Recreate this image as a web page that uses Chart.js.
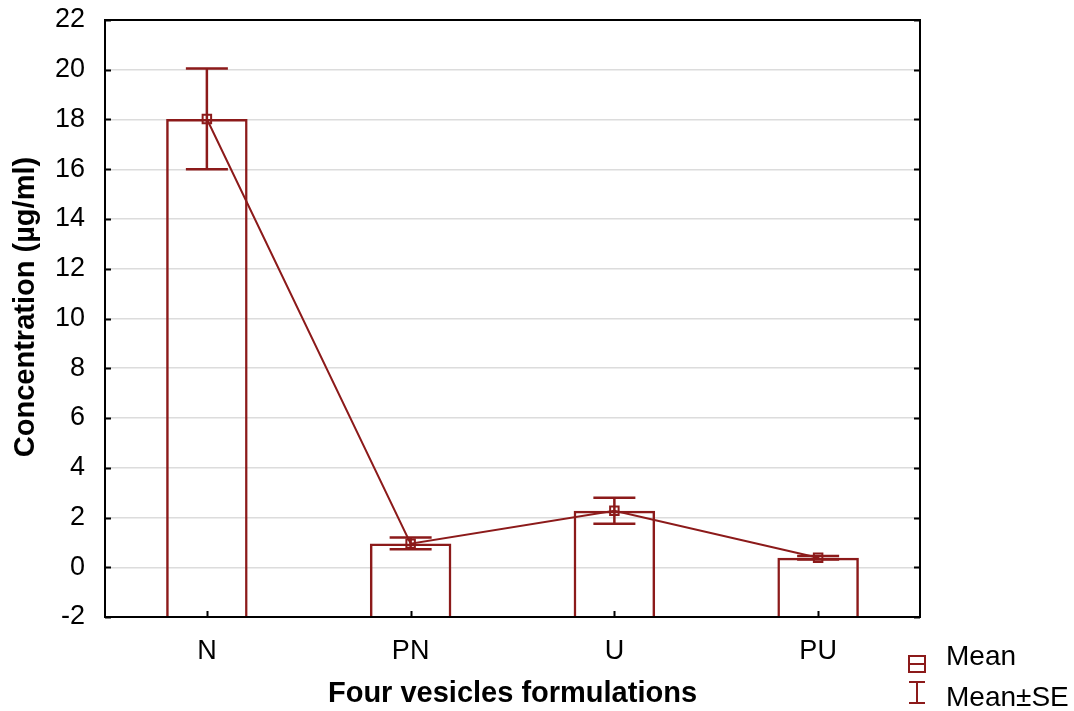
<!DOCTYPE html>
<html><head><meta charset="utf-8">
<script src="https://cdn.jsdelivr.net/npm/chart.js@4/dist/chart.umd.min.js"></script>
<style>html,body{margin:0;padding:0;background:#fff;} #wrap{width:1074px;height:711px;position:relative;}</style>
</head><body><div id="wrap"><canvas id="c" width="1074" height="711"></canvas></div>
<script>
const categories = ['N', 'PN', 'U', 'PU'];
const meanValues = [18.02, 0.95, 2.27, 0.38];
const seLower = [16.0, 0.72, 1.75, 0.31];
const seUpper = [20.05, 1.20, 2.79, 0.45];
const yTickValues = [-2, 0, 2, 4, 6, 8, 10, 12, 14, 16, 18, 20, 22];
const legendLabels = ['Mean', 'Mean±SE'];
const xTitle = 'Four vesicles formulations';
const yTitle = 'Concentration (µg/ml)';

const RED = '#8c1a1a';
const FONT = "'Liberation Sans', Arial, sans-serif";

const decor = {
  id: 'decor',
  afterDatasetsDraw(chart) {
    const ctx = chart.ctx, x = chart.scales.x, y = chart.scales.y;
    ctx.save();
    ctx.strokeStyle = RED; ctx.lineWidth = 2.5;
    categories.forEach((c, i) => {
      const px = x.getPixelForValue(i);
      const yl = y.getPixelForValue(seLower[i]);
      const yh = y.getPixelForValue(seUpper[i]);
      ctx.beginPath();
      ctx.moveTo(px, yl); ctx.lineTo(px, yh);
      ctx.moveTo(px - 21, yl); ctx.lineTo(px + 21, yl);
      ctx.moveTo(px - 21, yh); ctx.lineTo(px + 21, yh);
      ctx.stroke();
    });
    ctx.restore();
  },
  afterDraw(chart) {
    const ctx = chart.ctx, a = chart.chartArea, x = chart.scales.x, y = chart.scales.y;
    ctx.save();
    ctx.strokeStyle = '#000'; ctx.lineWidth = 2;
    ctx.beginPath();
    yTickValues.forEach(v => {
      const py = Math.round(y.getPixelForValue(v)) + 0.5;
      ctx.moveTo(a.left, py); ctx.lineTo(a.left + 6, py);
      ctx.moveTo(a.right, py); ctx.lineTo(a.right - 6, py);
    });
    categories.forEach((c, i) => {
      const px = Math.round(x.getPixelForValue(i)) + 0.5;
      ctx.moveTo(px, a.bottom); ctx.lineTo(px, a.bottom - 6);
    });
    ctx.stroke();
    ctx.lineWidth = 2;
    ctx.strokeRect(a.left, a.top, a.right - a.left, a.bottom - a.top);
    // y title drawn manually for exact placement
    ctx.fillStyle = '#000';
    ctx.font = 'bold 29px ' + FONT;
    ctx.textAlign = 'center'; ctx.textBaseline = 'middle';
    ctx.save();
    ctx.translate(26, 307);
    ctx.rotate(-Math.PI / 2);
    ctx.fillText(yTitle, 0, 0);
    ctx.restore();
    // legend
    const lx = 917;
    ctx.strokeStyle = RED; ctx.lineWidth = 2;
    ctx.strokeRect(lx - 8, 656, 16, 16);
    ctx.beginPath(); ctx.moveTo(lx - 8, 664); ctx.lineTo(lx + 8, 664); ctx.stroke();
    ctx.beginPath();
    ctx.moveTo(lx - 8, 682); ctx.lineTo(lx + 8, 682);
    ctx.moveTo(lx, 682); ctx.lineTo(lx, 703);
    ctx.moveTo(lx - 8, 703); ctx.lineTo(lx + 8, 703);
    ctx.stroke();
    ctx.fillStyle = '#000';
    ctx.font = '28px ' + FONT;
    ctx.textBaseline = 'middle'; ctx.textAlign = 'left';
    ctx.fillText(legendLabels[0], 946, 657);
    ctx.fillText(legendLabels[1], 946, 698);
    ctx.restore();
  }
};

new Chart(document.getElementById('c'), {
  type: 'bar',
  data: {
    labels: categories,
    datasets: [
      {
        type: 'line', label: legendLabels[0], data: meanValues,
        borderColor: RED, borderWidth: 2, pointStyle: 'rect', pointRadius: 6,
        pointBorderWidth: 2, pointBorderColor: RED, pointBackgroundColor: 'rgba(0,0,0,0)',
        tension: 0, order: 0
      },
      {
        type: 'bar', label: 'bars', data: meanValues, base: -2,
        backgroundColor: 'rgba(255,255,255,0)', borderColor: RED, borderWidth: 2.5,
        barPercentage: 0.4, categoryPercentage: 1, order: 1
      }
    ]
  },
  options: {
    responsive: false, animation: false,
    layout: { padding: { left: 0, top: 20, right: 154, bottom: 0 } },
    plugins: { legend: { display: false }, tooltip: { enabled: false } },
    scales: {
      x: {
        grid: { display: false, drawTicks: false },
        border: { display: false },
        ticks: { color: '#000', font: { family: FONT, size: 27 }, padding: 18 },
        title: { display: true, text: xTitle, color: '#000', font: { family: FONT, size: 29, weight: 'bold' }, padding: { top: 14, bottom: 0 } },
        afterFit(s) { s.height = 94; s.paddingLeft = 0; s.paddingRight = 0; }
      },
      y: {
        min: -2, max: 22,
        afterBuildTicks(s) { s.ticks = yTickValues.map(v => ({ value: v })); },
        grid: { color: '#dcdcdc', lineWidth: 1.5, drawTicks: false },
        border: { display: false },
        ticks: { color: '#000', font: { family: FONT, size: 27 }, padding: 20 },
        title: { display: false },
        afterFit(s) { s.width = 105; s.paddingTop = 0; s.paddingBottom = 0; }
      }
    }
  },
  plugins: [decor]
});
</script></body></html>
